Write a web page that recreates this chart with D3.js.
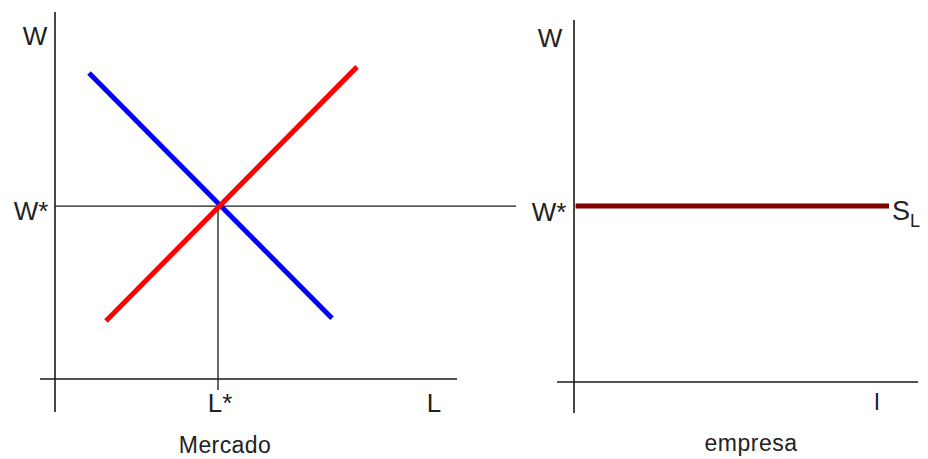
<!DOCTYPE html>
<html>
<head>
<meta charset="utf-8">
<script src="https://cdn.jsdelivr.net/npm/d3@7"></script>
<style>
  body { margin: 0; background: #fff; }
  text { font-family: "Liberation Sans", Arial, sans-serif; fill: #222; }
</style>
</head>
<body>
<script>
// values in abstract units (0-100 on both axes)
var wStar = 48;
var lStar = 40.75;
var demand = [{l: 8.5, w: 85}, {l: 69.25, w: 16.9}];   // blue
var supply = [{l: 12.75, w: 16.1}, {l: 75.5, w: 86.7}]; // red
var firmSupply = [{l: 0.5, w: 48}, {l: 100, w: 48}];    // S_L

var width = 928, height = 459;

var svg = d3.select("body").append("svg")
    .attr("width", width)
    .attr("height", height);

// scales for the two panels
var xL = d3.scaleLinear().domain([0, 100]).range([55, 455]);
var yL = d3.scaleLinear().domain([0, 100]).range([379, 19]);
var xR = d3.scaleLinear().domain([0, 100]).range([574, 889]);
var yR = d3.scaleLinear().domain([0, 100]).range([382, 15.3]);

var line = function(x, y) {
  return d3.line().x(d => x(d.l)).y(d => y(d.w));
};

var axisColor = "#1a1a1a";

// ---- left panel (Mercado) ----
var left = svg.append("g");

left.append("line")  // y axis
    .attr("x1", xL(0)).attr("x2", xL(0))
    .attr("y1", 12).attr("y2", 412)
    .attr("stroke", axisColor).attr("stroke-width", 1.6);

left.append("line")  // x axis
    .attr("x1", 40).attr("x2", 457)
    .attr("y1", yL(0)).attr("y2", yL(0))
    .attr("stroke", axisColor).attr("stroke-width", 1.6);

left.append("line")  // W* line
    .attr("x1", xL(0)).attr("x2", 516)
    .attr("y1", yL(wStar)).attr("y2", yL(wStar))
    .attr("stroke", axisColor).attr("stroke-width", 1.3);

left.append("line")  // L* line
    .attr("x1", xL(lStar)).attr("x2", xL(lStar))
    .attr("y1", yL(wStar)).attr("y2", 390)
    .attr("stroke", axisColor).attr("stroke-width", 1.3);

left.append("path")
    .datum(demand)
    .attr("d", line(xL, yL))
    .attr("stroke", "#0000ff").attr("stroke-width", 5)
    .attr("fill", "none");

left.append("path")
    .datum(supply)
    .attr("d", line(xL, yL))
    .attr("stroke", "#ff0000").attr("stroke-width", 5)
    .attr("fill", "none");

left.append("text").attr("x", 35).attr("y", 45)
    .attr("text-anchor", "middle").attr("font-size", 26).text("W");
left.append("text").attr("x", 31).attr("y", 220)
    .attr("text-anchor", "middle").attr("font-size", 26).text("W*");
left.append("text").attr("x", 220).attr("y", 412)
    .attr("text-anchor", "middle").attr("font-size", 26).text("L*");
left.append("text").attr("x", 434).attr("y", 412)
    .attr("text-anchor", "middle").attr("font-size", 26).text("L");
left.append("text").attr("x", 225).attr("y", 453)
    .attr("text-anchor", "middle").attr("font-size", 23)
    .attr("letter-spacing", 0.4).text("Mercado");

// ---- right panel (empresa) ----
var right = svg.append("g");

right.append("line")
    .attr("x1", xR(0)).attr("x2", xR(0))
    .attr("y1", 20).attr("y2", 413)
    .attr("stroke", axisColor).attr("stroke-width", 1.6);

right.append("line")
    .attr("x1", 557).attr("x2", 918)
    .attr("y1", yR(0)).attr("y2", yR(0))
    .attr("stroke", axisColor).attr("stroke-width", 1.6);

right.append("path")
    .datum(firmSupply)
    .attr("d", line(xR, yR))
    .attr("stroke", "#800000").attr("stroke-width", 5)
    .attr("fill", "none");

right.append("text").attr("x", 550).attr("y", 47)
    .attr("text-anchor", "middle").attr("font-size", 26).text("W");
right.append("text").attr("x", 549).attr("y", 221)
    .attr("text-anchor", "middle").attr("font-size", 26).text("W*");

var sl = right.append("text").attr("x", 892).attr("y", 220).attr("font-size", 27);
sl.append("tspan").text("S");
sl.append("tspan").attr("font-size", 18).attr("dy", 7).text("L");

right.append("text").attr("x", 877).attr("y", 410)
    .attr("text-anchor", "middle").attr("font-size", 24).text("l");
right.append("text").attr("x", 751).attr("y", 451)
    .attr("text-anchor", "middle").attr("font-size", 23)
    .attr("letter-spacing", 0.5).text("empresa");
</script>
</body>
</html>
